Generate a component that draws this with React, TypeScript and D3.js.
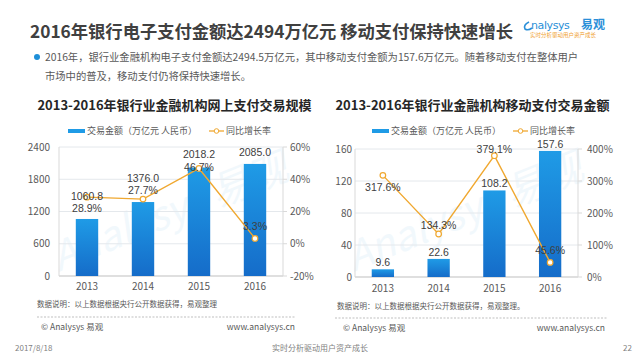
import React from 'react';
import * as d3 from 'd3';

// ---- data ----
const years = ['2013', '2014', '2015', '2016'];
const onlineAmount = [1060.8, 1376.0, 2018.2, 2085.0];
const onlineGrowth = [28.9, 27.7, 46.7, 3.3];
const mobileAmount = [9.6, 22.6, 108.2, 157.6];
const mobileGrowth = [317.6, 134.3, 379.1, 45.6];
const onlineLeftTicks = [0, 600, 1200, 1800, 2400];
const onlineRightTicks = [-20, 0, 20, 40, 60];
const mobileLeftTicks = [0, 40, 80, 120, 160];
const mobileRightTicks = [0, 100, 200, 300, 400];

const FONT = '"Noto Sans CJK SC", "Microsoft YaHei", sans-serif';
const NUMFONT = '"Liberation Sans", Arial, sans-serif';
const BAR_TOP = '#1f9be6';
const BAR_BOT = '#156cc9';
const LINE = '#f0a830';

type ChartProps = {
  id: string;
  title: string;
  titleX: number;
  px0: number; px1: number; py0: number; py1: number;
  amount: number[]; growth: number[];
  leftTicks: number[]; rightTicks: number[];
  leftFmt: (v: number) => string;
  leftLabelGap: number; rightLabelGap: number;
  catY: number;
  legendX: number; lineLegendX: number; legendY: number;
  pctDy: number[]; valDy: number[];
  note: string; noteX: number; noteY: number;
  sepX0: number; sepX1: number; sepY: number;
  copyX: number; urlX: number;
  wmX: number; wmY: number;
};

function Chart(p: ChartProps) {
  const x = d3.scaleBand<string>().domain(years).range([p.px0, p.px1]).paddingInner(0.6).paddingOuter(0.3);
  const yL = d3.scaleLinear().domain(d3.extent(p.leftTicks) as [number, number]).range([p.py1, p.py0]);
  const yR = d3.scaleLinear().domain(d3.extent(p.rightTicks) as [number, number]).range([p.py1, p.py0]);
  const cx = (d: string) => (x(d) as number) + x.bandwidth() / 2;
  const line = d3.line<number>().x((_, i) => cx(years[i])).y((v) => yR(v));
  const gid = 'grad-' + p.id;
  const ly = p.legendY;
  return (
    <g fontFamily={FONT}>
      <defs>
        <linearGradient id={gid} x1="0" y1="0" x2="0" y2="1">
          <stop offset="0" stopColor={BAR_TOP} />
          <stop offset="1" stopColor={BAR_BOT} />
        </linearGradient>
      </defs>
      <text x={p.titleX} y={105} textAnchor="middle" dy="0.35em" fontSize={13} fontWeight="bold" fill="#262626">{p.title}</text>
      {/* legend */}
      <rect x={p.legendX} y={ly - 2} width={17} height={4} fill={BAR_TOP} />
      <text x={p.legendX + 19} y={ly} dy="0.35em" fontSize={9} fill="#595959">交易金额（万亿元 人民币）</text>
      <line x1={p.lineLegendX} x2={p.lineLegendX + 15} y1={ly} y2={ly} stroke={LINE} strokeWidth={1.3} />
      <circle cx={p.lineLegendX + 7.5} cy={ly} r={2.3} fill="#fff" stroke={LINE} strokeWidth={1} />
      <text x={p.lineLegendX + 17} y={ly} dy="0.35em" fontSize={9} fill="#595959">同比增长率</text>
      {/* watermark */}
      <text x={p.wmX} y={p.wmY} transform={`rotate(-22 ${p.wmX} ${p.wmY})`} fontSize={40} fontStyle="italic" fill="#4aa3df" opacity={0.07} textAnchor="middle">Analysys 易观</text>
      {/* grid */}
      {p.leftTicks.map((t) => (
        <line key={'g' + t} x1={p.px0} x2={p.px1} y1={yL(t)} y2={yL(t)} stroke={t === p.leftTicks[0] ? '#bfbfbf' : '#e4e8ec'} strokeWidth={1} />
      ))}
      <line x1={p.px0} x2={p.px0} y1={p.py0} y2={p.py1} stroke="#d9d9d9" />
      <line x1={p.px1} x2={p.px1} y1={p.py0} y2={p.py1} stroke="#d9d9d9" />
      {p.rightTicks.map((t) => (
        <line key={'rt' + t} x1={p.px1} x2={p.px1 + 4} y1={yR(t)} y2={yR(t)} stroke="#d9d9d9" />
      ))}
      {p.leftTicks.map((t) => (
        <text key={'l' + t} x={p.px0 - p.leftLabelGap} y={yL(t)} dy="0.35em" textAnchor="end" fontSize={10} fill="#595959">{p.leftFmt(t)}</text>
      ))}
      {p.rightTicks.map((t) => (
        <text key={'r' + t} x={p.px1 + p.rightLabelGap} y={yR(t)} dy="0.35em" textAnchor="start" fontSize={10} fill="#595959">{t + '%'}</text>
      ))}
      {years.map((yr) => (
        <text key={'c' + yr} x={cx(yr)} y={p.catY} dy="0.35em" textAnchor="middle" fontSize={10} fill="#595959">{yr}</text>
      ))}
      {/* bars */}
      {p.amount.map((v, i) => (
        <rect key={'b' + i} x={x(years[i])} y={yL(v)} width={x.bandwidth()} height={yL(0) - yL(v)} fill={`url(#${gid})`} />
      ))}
      {/* line */}
      <path d={line(p.growth) as string} fill="none" stroke={LINE} strokeWidth={1.4} />
      {p.growth.map((v, i) => (
        <circle key={'p' + i} cx={cx(years[i])} cy={yR(v)} r={2.8} fill="#fff" stroke={LINE} strokeWidth={1.2} />
      ))}
      {/* labels */}
      {p.amount.map((v, i) => (
        <text key={'v' + i} x={cx(years[i])} y={yL(v) - p.valDy[i]} dy="0.35em" textAnchor="middle" fontSize={10.5} fontFamily={NUMFONT} fill="#404040">{v.toFixed(1)}</text>
      ))}
      {p.growth.map((v, i) => (
        <text key={'pl' + i} x={cx(years[i])} y={yR(v) + p.pctDy[i]} dy="0.35em" textAnchor="middle" fontSize={10.5} fontFamily={NUMFONT} fill="#404040">{v.toFixed(1) + '%'}</text>
      ))}
      {/* notes */}
      <text x={p.noteX} y={p.noteY} dy="0.35em" fontSize={7.5} fill="#595959">{p.note}</text>
      <line x1={p.sepX0} x2={p.sepX1} y1={p.sepY} y2={p.sepY} stroke="#bfbfbf" strokeDasharray="2,1.5" />
      <text x={p.copyX} y={p.sepY + 10} dy="0.35em" fontSize={8.5} fill="#595959">© Analysys 易观</text>
      <text x={p.urlX} y={p.sepY + 10} dy="0.35em" fontSize={8.5} textAnchor="end" fill="#595959">www.analysys.cn</text>
    </g>
  );
}

export default function App() {
  return (
    <div style={{ position: 'fixed', left: 0, top: 0 }}>
      <svg width={640} height={360} style={{ display: 'block', background: '#fff' }} fontFamily={FONT}>
        {/* header */}
        <text x={30} y={38} fontSize={17.3} fontWeight="bold" fill="#404040">2016年银行电子支付金额达2494万亿元  移动支付保持快速增长</text>
        <path d="M529,22 q-6,3 -4,7 q3,2 7,-1" fill="none" stroke="#2a8fd8" strokeWidth={1.6} />
        <text x={531} y={29} fontSize={11} fill="#2a8fd8" fontFamily="Verdana, DejaVu Sans, sans-serif" letterSpacing={-0.4}>nalysys</text>
        <text x={581} y={29} fontSize={12} fontWeight="bold" fill="#2a8fd8">易观</text>
        <text x={530} y={37} fontSize={5.5} fill="#f0a030">实时分析驱动用户资产成长</text>
        <circle cx={37} cy={57} r={3} fill="#1e8fd8" />
        <text x={45} y={57} dy="0.35em" fontSize={10.3} fill="#595959">2016年，银行业金融机构电子支付金额达2494.5万亿元，其中移动支付金额为157.6万亿元。随着移动支付在整体用户</text>
        <text x={45} y={76} dy="0.35em" fontSize={10.3} fill="#595959">市场中的普及，移动支付仍将保持快速增长。</text>

        <Chart id="a" title="2013-2016年银行业金融机构网上支付交易规模" titleX={174.5}
          px0={59} px1={283} py0={147} py1={276}
          amount={onlineAmount} growth={onlineGrowth}
          leftTicks={onlineLeftTicks} rightTicks={onlineRightTicks}
          leftFmt={(v) => String(v)} leftLabelGap={9} rightLabelGap={7} catY={286}
          legendX={68} lineLegendX={209} legendY={131}
          pctDy={[11, -9, -1, -12]} valDy={[23, 24, 13, 12]}
          note="数据说明：以上数据根据央行公开数据获得，易观整理" noteX={37} noteY={304}
          sepX0={37} sepX1={295} sepY={317} copyX={41} urlX={295} wmX={175} wmY={225} />
        <Chart id="b" title="2013-2016年银行业金融机构移动支付交易金额" titleX={472.5}
          px0={355} px1={578} py0={149} py1={277}
          amount={mobileAmount} growth={mobileGrowth}
          leftTicks={mobileLeftTicks} rightTicks={mobileRightTicks}
          leftFmt={(v) => String(v)} leftLabelGap={3} rightLabelGap={9} catY={288}
          legendX={372} lineLegendX={513} legendY={131}
          pctDy={[12, -9, -6, -12]} valDy={[7, 7, 7, 7]}
          note="数据说明：以上数据根据央行公开数据获得，易观整理。" noteX={337} noteY={306}
          sepX0={335} sepX1={607} sepY={318} copyX={343} urlX={605} wmX={470} wmY={225} />

        {/* footer */}
        <text x={15} y={348} dy="0.35em" fontSize={8} fill="#7f7f7f">2017/8/18</text>
        <text x={320} y={348} dy="0.35em" fontSize={8} textAnchor="middle" fill="#7f7f7f">实时分析驱动用户资产成长</text>
        <text x={632} y={348} dy="0.35em" fontSize={8} textAnchor="end" fill="#7f7f7f">22</text>
      </svg>
    </div>
  );
}
